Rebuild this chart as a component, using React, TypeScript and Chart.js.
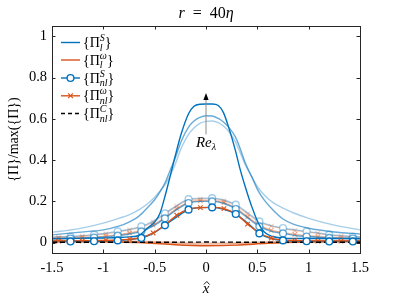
import React, { useEffect, useRef } from "react";
import { Chart, registerables } from "chart.js";
Chart.register(...registerables);

// ---------- data ----------
const X_TICKS = [-1.5, -1, -0.5, 0, 0.5, 1, 1.5];
const Y_TICKS = [0, 0.2, 0.4, 0.6, 0.8, 1];

// fine grid for the Pi_l curves
const FX = [-1.5, -1.25, -1.0, -0.85, -0.75, -0.65, -0.56, -0.5, -0.45, -0.4, -0.35, -0.3, -0.24, -0.17, -0.12, -0.06, 0, 0.06, 0.12, 0.17, 0.22, 0.285, 0.33, 0.38, 0.445, 0.51, 0.57, 0.65, 0.75, 0.85, 1.0, 1.25, 1.5];
const PI_L_S_HIGH = [0.02, 0.021, 0.023, 0.025, 0.028, 0.036, 0.075, 0.1, 0.14, 0.224, 0.32, 0.42, 0.53, 0.625, 0.66, 0.671, 0.672, 0.672, 0.665, 0.63, 0.56, 0.45, 0.36, 0.275, 0.176, 0.095, 0.05, 0.03, 0.022, 0.02, 0.02, 0.02, 0.02];
const PI_L_S_MID = [0.038, 0.05, 0.062, 0.08, 0.1, 0.13, 0.175, 0.208, 0.245, 0.289, 0.35, 0.41, 0.493, 0.56, 0.588, 0.607, 0.615, 0.614, 0.602, 0.585, 0.56, 0.514, 0.46, 0.39, 0.32, 0.25, 0.205, 0.16, 0.115, 0.09, 0.07, 0.052, 0.042];
const PI_L_S_LOW = [0.05, 0.067, 0.095, 0.118, 0.135, 0.16, 0.192, 0.22, 0.25, 0.28, 0.325, 0.38, 0.46, 0.525, 0.555, 0.578, 0.588, 0.59, 0.582, 0.565, 0.54, 0.49, 0.44, 0.38, 0.32, 0.265, 0.23, 0.195, 0.168, 0.145, 0.118, 0.085, 0.062];

// Pi_l^omega (near zero)
const LW_X = [-1.5, -1.0, -0.6, -0.3, 0, 0.3, 0.6, 1.0, 1.5];
const PI_L_W_HIGH = [0.006, 0.004, 0.0, -0.01, -0.015, -0.012, -0.003, 0.003, 0.006];
const PI_L_W_MID = [0.009, 0.007, 0.004, -0.003, -0.007, -0.005, 0.001, 0.006, 0.009];
const PI_L_W_LOW = [0.012, 0.01, 0.007, 0.002, -0.001, 0.0, 0.005, 0.009, 0.012];

// grid for the Pi_nl curves (markers sit on it)
const GX = [-1.5, -1.435, -1.32, -1.205, -1.09, -0.975, -0.86, -0.745, -0.63, -0.515, -0.40, -0.285, -0.17, -0.055, 0.06, 0.175, 0.29, 0.405, 0.52, 0.635, 0.75, 0.865, 0.98, 1.09, 1.20, 1.315, 1.43, 1.5];
const PI_NL_S_HIGH = [0.006, 0.006, 0.006, 0.006, 0.007, 0.008, 0.011, 0.015, 0.023, 0.045, 0.084, 0.125, 0.16, 0.17, 0.171, 0.162, 0.139, 0.095, 0.045, 0.02, 0.011, 0.008, 0.007, 0.006, 0.006, 0.006, 0.006, 0.006];
const PI_NL_S_MID = [0.018, 0.019, 0.02, 0.022, 0.025, 0.028, 0.034, 0.042, 0.055, 0.08, 0.118, 0.16, 0.192, 0.2, 0.2, 0.19, 0.163, 0.12, 0.079, 0.055, 0.045, 0.035, 0.03, 0.026, 0.023, 0.021, 0.02, 0.019];
const PI_NL_S_LOW = [0.028, 0.029, 0.03, 0.034, 0.039, 0.046, 0.055, 0.065, 0.079, 0.105, 0.142, 0.18, 0.211, 0.215, 0.216, 0.207, 0.184, 0.145, 0.103, 0.083, 0.071, 0.062, 0.055, 0.047, 0.039, 0.034, 0.03, 0.029];
const PI_NL_W_HIGH = [0.008, 0.008, 0.008, 0.009, 0.01, 0.011, 0.013, 0.017, 0.025, 0.047, 0.086, 0.133, 0.162, 0.17, 0.171, 0.165, 0.14, 0.09, 0.047, 0.022, 0.013, 0.01, 0.009, 0.008, 0.008, 0.008, 0.008, 0.008];
const PI_NL_W_MID = [0.02, 0.021, 0.023, 0.025, 0.028, 0.032, 0.038, 0.047, 0.06, 0.085, 0.123, 0.165, 0.195, 0.203, 0.204, 0.194, 0.167, 0.125, 0.085, 0.06, 0.049, 0.04, 0.034, 0.029, 0.026, 0.023, 0.022, 0.021];
const PI_NL_W_LOW = [0.026, 0.027, 0.029, 0.032, 0.037, 0.043, 0.052, 0.062, 0.076, 0.1, 0.138, 0.177, 0.207, 0.211, 0.212, 0.203, 0.18, 0.14, 0.1, 0.08, 0.068, 0.059, 0.052, 0.045, 0.037, 0.032, 0.029, 0.027];
const CIRCLE_IDX = [2, 4, 6, 8, 10, 12, 14, 16, 18, 20, 22, 24, 26];
const CROSS_IDX = [1, 3, 5, 7, 9, 11, 13, 15, 17, 19, 21, 23, 25];

// Pi_nl^C (near zero, dashed)
const NC_X = [-1.5, -1.0, -0.5, 0, 0.5, 1.0, 1.5];
const PI_NL_C = [0.002, 0.002, 0.002, 0.003, 0.002, 0.002, 0.002];

// annotation (Re_lambda arrow)
const ARROW_X = 0;
const ARROW_FROM = 0.525;
const ARROW_TIP = 0.725;
const ARROW_LABEL_Y = 0.465;

// ---------- styles ----------
const BLUE = "#0072BD";
const BLUE_M = "rgba(0,114,189,0.6)";
const BLUE_L = "rgba(0,114,189,0.35)";
const ORANGE = "#D95319";
const ORANGE_M = "rgba(217,83,25,0.45)";
const ORANGE_L = "rgba(217,83,25,0.28)";
const AXIS = "#262626";
const SERIF = "'Liberation Serif', 'DejaVu Serif', serif";

const pts = (xs: number[], ys: number[]) => xs.map((x, i) => ({ x, y: ys[i] }));

function lineDs(label: string, xs: number[], ys: number[], color: string, order: number, extra: any = {}) {
  return {
    label,
    data: pts(xs, ys),
    borderColor: color,
    backgroundColor: color,
    borderWidth: 1.4,
    pointRadius: 0,
    pointHoverRadius: 0,
    fill: false,
    cubicInterpolationMode: "monotone",
    order,
    ...extra,
  };
}

function circleDs(label: string, ys: number[], color: string, order: number, extra: any = {}) {
  return lineDs(label, GX, ys, color, order, {
    pointStyle: "circle",
    pointRadius: (c: any) => (CIRCLE_IDX.includes(c.dataIndex) ? 3.4 : 0),
    pointBorderWidth: 1.4,
    pointBorderColor: color,
    pointBackgroundColor: "#ffffff",
    ...extra,
  });
}

function crossDs(label: string, ys: number[], color: string, order: number) {
  return lineDs(label, GX, ys, color, order, {
    pointStyle: "crossRot",
    pointRadius: (c: any) => (CROSS_IDX.includes(c.dataIndex) ? 3.2 : 0),
    pointBorderWidth: 1.1,
    pointBorderColor: color,
  });
}

// ---------- rich text helpers ----------
function font(size: number, italic = false) {
  return `${italic ? "italic " : ""}${size}px ${SERIF}`;
}

type Part = { t: string; size: number; italic?: boolean; dy?: number; stackWith?: Part };

function measureParts(ctx: CanvasRenderingContext2D, parts: Part[]) {
  let w = 0;
  for (const p of parts) {
    ctx.font = font(p.size, p.italic);
    let pw = ctx.measureText(p.t).width;
    if (p.stackWith) {
      ctx.font = font(p.stackWith.size, p.stackWith.italic);
      pw = Math.max(pw, ctx.measureText(p.stackWith.t).width);
    }
    w += pw;
  }
  return w;
}

function drawParts(ctx: CanvasRenderingContext2D, parts: Part[], x: number, y: number) {
  let cx = x;
  ctx.textBaseline = "alphabetic";
  ctx.textAlign = "left";
  for (const p of parts) {
    ctx.font = font(p.size, p.italic);
    ctx.fillText(p.t, cx, y + (p.dy || 0));
    let pw = ctx.measureText(p.t).width;
    if (p.stackWith) {
      const s = p.stackWith;
      ctx.font = font(s.size, s.italic);
      ctx.fillText(s.t, cx, y + (s.dy || 0));
      pw = Math.max(pw, ctx.measureText(s.t).width);
    }
    cx += pw;
  }
}

function piParts(sub: string, sup: string): Part[] {
  return [
    { t: "{\u03A0", size: 14 },
    { t: sup, size: 10, italic: true, dy: -6, stackWith: { t: sub, size: 10, italic: true, dy: 3.5 } },
    { t: "}", size: 14 },
  ];
}

const LEGEND = [
  { sub: "l", sup: "S", color: BLUE, marker: "none", dash: false },
  { sub: "l", sup: "\u03C9", color: ORANGE, marker: "none", dash: false },
  { sub: "nl", sup: "S", color: BLUE, marker: "circle", dash: false },
  { sub: "nl", sup: "\u03C9", color: ORANGE, marker: "cross", dash: false },
  { sub: "nl", sup: "C", color: "#000000", marker: "none", dash: true },
];

const decorPlugin = {
  id: "decor",
  afterDatasetsDraw(chart: any) {
    const ctx: CanvasRenderingContext2D = chart.ctx;
    const xs = chart.scales.x;
    const ys = chart.scales.y;
    const ax = xs.getPixelForValue(ARROW_X);
    const y0 = ys.getPixelForValue(ARROW_FROM);
    const yt = ys.getPixelForValue(ARROW_TIP);
    ctx.save();
    ctx.strokeStyle = "#8c8c8c";
    ctx.lineWidth = 1;
    ctx.beginPath();
    ctx.moveTo(ax, y0);
    ctx.lineTo(ax, yt + 6);
    ctx.stroke();
    ctx.fillStyle = "#000000";
    ctx.beginPath();
    ctx.moveTo(ax, yt);
    ctx.lineTo(ax - 2.6, yt + 7);
    ctx.lineTo(ax + 2.6, yt + 7);
    ctx.closePath();
    ctx.fill();
    const parts: Part[] = [
      { t: "Re", size: 15, italic: true },
      { t: "\u03BB", size: 10, italic: true, dy: 3 },
    ];
    ctx.fillStyle = "#000000";
    const w = measureParts(ctx, parts);
    drawParts(ctx, parts, ax - w / 2, ys.getPixelForValue(ARROW_LABEL_Y));
    ctx.restore();
  },
  afterDraw(chart: any) {
    const ctx: CanvasRenderingContext2D = chart.ctx;
    const a = chart.chartArea;
    const xs = chart.scales.x;
    const ys = chart.scales.y;
    ctx.save();
    ctx.strokeStyle = AXIS;
    ctx.lineWidth = 1;
    ctx.strokeRect(Math.round(a.left) + 0.5, Math.round(a.top) + 0.5, Math.round(a.right - a.left), Math.round(a.bottom - a.top));
    const tl = 3.5;
    ctx.beginPath();
    for (const v of X_TICKS) {
      const px = Math.round(xs.getPixelForValue(v)) + 0.5;
      ctx.moveTo(px, a.bottom);
      ctx.lineTo(px, a.bottom - tl);
      ctx.moveTo(px, a.top);
      ctx.lineTo(px, a.top + tl);
    }
    for (const v of Y_TICKS) {
      const py = Math.round(ys.getPixelForValue(v)) + 0.5;
      ctx.moveTo(a.left, py);
      ctx.lineTo(a.left + tl, py);
      ctx.moveTo(a.right, py);
      ctx.lineTo(a.right - tl, py);
    }
    ctx.stroke();

    // title
    ctx.fillStyle = "#000000";
    const title: Part[] = [
      { t: "r", size: 16, italic: true },
      { t: "\u2002=\u200240", size: 16 },
      { t: "\u03B7", size: 16, italic: true },
    ];
    const tw = measureParts(ctx, title);
    drawParts(ctx, title, (a.left + a.right) / 2 - tw / 2, 18);

    // x label with hat
    const xl: Part[] = [{ t: "x", size: 15, italic: true }];
    const xw = measureParts(ctx, xl);
    const xcx = (a.left + a.right) / 2;
    drawParts(ctx, xl, xcx - xw / 2, 293);
    ctx.lineWidth = 0.9;
    ctx.strokeStyle = "#000000";
    ctx.beginPath();
    ctx.moveTo(xcx - 2.2, 284.5);
    ctx.lineTo(xcx + 0.8, 281.5);
    ctx.lineTo(xcx + 3.6, 284.5);
    ctx.stroke();

    // y label rotated
    ctx.save();
    ctx.translate(14, (a.top + a.bottom) / 2);
    ctx.rotate(-Math.PI / 2);
    ctx.font = font(14);
    ctx.textAlign = "center";
    ctx.textBaseline = "middle";
    ctx.fillText("{\u03A0}/max({\u03A0})", 0, 0);
    ctx.restore();

    // legend
    const rows = [42.5, 60, 78, 95.8, 113.5];
    const lx0 = 61, lx1 = 80, tx = 83;
    LEGEND.forEach((e, i) => {
      const y = rows[i];
      ctx.strokeStyle = e.color;
      ctx.lineWidth = 1.4;
      ctx.setLineDash(e.dash ? [4, 3] : []);
      ctx.beginPath();
      ctx.moveTo(lx0, y);
      ctx.lineTo(lx1, y);
      ctx.stroke();
      ctx.setLineDash([]);
      const mx = (lx0 + lx1) / 2;
      if (e.marker === "circle") {
        ctx.fillStyle = "#ffffff";
        ctx.beginPath();
        ctx.arc(mx, y, 3.4, 0, Math.PI * 2);
        ctx.fill();
        ctx.stroke();
      } else if (e.marker === "cross") {
        ctx.lineWidth = 1.1;
        ctx.beginPath();
        ctx.moveTo(mx - 2.4, y - 2.4);
        ctx.lineTo(mx + 2.4, y + 2.4);
        ctx.moveTo(mx + 2.4, y - 2.4);
        ctx.lineTo(mx - 2.4, y + 2.4);
        ctx.stroke();
      }
      ctx.fillStyle = "#000000";
      drawParts(ctx, piParts(e.sub, e.sup), tx, y + 4.5);
    });
    ctx.restore();
  },
};

export default function App() {
  const ref = useRef<HTMLCanvasElement>(null);
  useEffect(() => {
    if (!ref.current) return;
    const datasets: any[] = [
      // dark circle markers on top, their line beneath the dark orange line
      circleDs("nlS high markers", PI_NL_S_HIGH, BLUE, 0, { showLine: false }),
      lineDs("nlC", NC_X, PI_NL_C, "#000000", 1, { borderDash: [5, 3], borderWidth: 1.4, cubicInterpolationMode: "default", tension: 0 }),
      crossDs("nlW high", PI_NL_W_HIGH, ORANGE, 2),
      lineDs("nlS high", GX, PI_NL_S_HIGH, BLUE, 2.5),
      lineDs("lS high", FX, PI_L_S_HIGH, BLUE, 3),
      lineDs("lW high", LW_X, PI_L_W_HIGH, ORANGE, 4),
      circleDs("nlS mid", PI_NL_S_MID, BLUE_M, 5),
      crossDs("nlW mid", PI_NL_W_MID, ORANGE_M, 6),
      lineDs("lS mid", FX, PI_L_S_MID, BLUE_M, 7),
      lineDs("lW mid", LW_X, PI_L_W_MID, ORANGE_M, 8),
      circleDs("nlS low", PI_NL_S_LOW, BLUE_L, 9),
      crossDs("nlW low", PI_NL_W_LOW, ORANGE_L, 10),
      lineDs("lS low", FX, PI_L_S_LOW, BLUE_L, 11),
      lineDs("lW low", LW_X, PI_L_W_LOW, ORANGE_L, 12),
    ];
    const chart = new Chart(ref.current, {
      type: "line",
      data: { datasets },
      options: {
        animation: false,
        responsive: false,
        devicePixelRatio: 1,
        layout: { padding: { top: 26, right: 39, left: 0, bottom: 0 } },
        plugins: { legend: { display: false }, title: { display: false }, tooltip: { enabled: false } },
        events: [],
        scales: {
          x: {
            type: "linear",
            min: -1.5,
            max: 1.5,
            grid: { display: false, drawTicks: false },
            border: { display: false },
            afterBuildTicks: (s: any) => {
              s.ticks = X_TICKS.map((v) => ({ value: v }));
            },
            afterFit: (s: any) => {
              s.height = 46;
            },
            ticks: {
              autoSkip: false,
              maxRotation: 0,
              padding: 6,
              color: "#000000",
              font: { family: SERIF, size: 14.5 },
              callback: (v: any) => String(v),
            },
          },
          y: {
            type: "linear",
            min: -0.05,
            max: 1.05,
            grid: { display: false, drawTicks: false },
            border: { display: false },
            afterBuildTicks: (s: any) => {
              s.ticks = Y_TICKS.map((v) => ({ value: v }));
            },
            afterFit: (s: any) => {
              s.width = 52;
            },
            ticks: {
              autoSkip: false,
              padding: 5,
              color: "#000000",
              font: { family: SERIF, size: 14.5 },
              callback: (v: any) => String(Math.round(v * 10) / 10),
            },
          },
        },
      } as any,
      plugins: [decorPlugin],
    });
    return () => chart.destroy();
  }, []);
  return (
    <div style={{ position: "absolute", left: 0, top: 0, width: 399, height: 299, background: "#ffffff" }}>
      <canvas ref={ref} width={399} height={299} />
    </div>
  );
}
